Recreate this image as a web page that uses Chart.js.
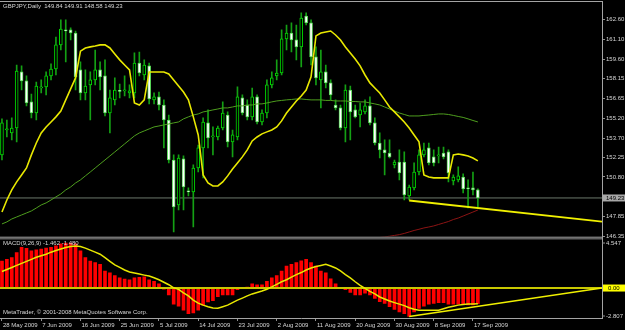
<!DOCTYPE html>
<html><head><meta charset="utf-8">
<style>html,body{margin:0;padding:0;background:#000;overflow:hidden}#wrap{width:625px;height:330px}</style>
<script src="https://cdn.jsdelivr.net/npm/chart.js@4.4.1/dist/chart.umd.min.js"></script>
</head><body><div id="wrap"><canvas id="c" width="625" height="330"></canvas></div>
<script>
// ---------- data ----------
const SYMBOL = 'GBPJPY,Daily';
const LAST_OHLC = ['149.84', '149.91', '148.58', '149.23'];
const MACD_TITLE = 'MACD(9,26,9) -1.462 -1.480';
const COPYRIGHT = 'MetaTrader, \u00A9 2001-2008 MetaQuotes Software Corp.';

const X_LABELS = ['28 May 2009','7 Jun 2009','16 Jun 2009','25 Jun 2009','5 Jul 2009','14 Jul 2009','23 Jul 2009','2 Aug 2009','11 Aug 2009','20 Aug 2009','30 Aug 2009','8 Sep 2009','17 Sep 2009'];
const X_LABEL_BARS = [0, 8, 16, 24, 32, 40, 48, 56, 64, 72, 80, 88, 96];

const Y_TICKS = [162.60, 161.10, 159.60, 158.15, 156.65, 155.20, 153.70, 152.25, 150.80, 147.85, 146.35];
const MACD_AXIS = [4.547, -2.807];
const BID = 149.23;
const ZERO_LEVEL = 0;

const OPEN = [152.45,154.31,154.09,154.46,158.65,157.98,156.41,155.58,157.45,157.53,
158.35,158.87,160.67,161.79,161.79,161.56,158.80,157.08,157.68,158.05,
158.80,158.35,155.58,156.56,157.23,157.23,157.08,157.08,159.32,158.42,
159.10,156.56,156.78,156.18,155.06,152.07,148.71,152.15,149.75,149.68,
151.47,152.97,154.84,153.79,153.79,154.46,155.43,153.42,153.79,156.71,
156.18,155.29,156.78,154.91,155.58,157.68,158.35,158.57,161.12,161.56,
161.04,160.52,162.83,162.31,159.77,158.05,158.65,157.83,156.18,155.96,
154.46,157.30,155.81,155.43,155.66,156.11,154.84,153.34,152.82,152.59,
151.70,151.92,151.92,149.38,149.98,151.17,152.45,152.97,152.30,152.37,
152.59,152.67,150.50,150.58,150.80,149.98,149.98,149.84];
const HIGH = [155.14,155.06,155.21,159.17,159.10,158.35,157.00,157.90,158.05,158.65,
159.25,161.26,162.54,162.54,161.94,161.71,159.40,158.80,158.65,160.29,
159.40,159.55,157.30,158.20,157.75,158.35,157.68,160.07,160.14,159.55,
159.32,157.08,157.15,156.56,155.43,152.45,152.45,152.37,149.98,151.70,
153.19,155.21,155.81,154.54,154.61,156.41,155.66,154.31,157.53,156.93,
156.56,157.45,156.93,155.81,158.05,158.65,159.55,161.79,162.16,162.31,
162.16,163.06,163.06,162.54,160.52,160.29,159.17,158.05,156.56,156.18,
157.68,157.60,156.18,156.33,156.56,156.78,155.21,154.09,153.57,153.57,
152.07,152.82,152.67,150.20,151.85,152.82,153.34,153.34,152.82,153.04,
153.04,152.82,150.95,151.55,151.03,150.58,151.17,149.91];
const LOW = [152.07,153.79,153.57,153.42,157.30,156.11,155.21,155.06,157.08,156.93,
158.05,158.42,160.29,159.40,161.04,157.30,156.56,156.56,155.06,157.68,
157.30,155.36,154.09,156.18,156.71,156.85,156.71,156.71,158.35,158.05,
156.26,156.26,155.81,152.97,151.85,146.69,148.33,148.33,149.38,147.06,
151.17,150.73,152.97,152.45,153.57,154.31,153.04,152.30,153.57,155.43,
155.06,155.06,154.76,154.69,155.21,157.45,158.05,158.42,160.29,160.14,
159.55,159.02,162.16,159.17,157.68,155.96,157.45,156.56,155.81,154.31,
153.42,153.57,155.21,154.54,155.51,154.69,153.19,152.22,150.95,152.22,
151.47,150.58,149.08,149.08,149.83,150.95,152.30,151.70,151.62,151.85,
152.15,150.43,150.20,150.43,149.60,148.48,149.46,148.58];
const CLOSE = [154.84,154.39,154.46,158.72,157.98,156.33,155.58,157.60,157.53,158.35,
158.87,160.67,161.86,161.71,161.56,158.28,157.08,157.60,158.05,158.80,
158.28,155.58,156.71,157.30,157.20,157.30,157.23,159.32,158.57,159.17,
156.63,156.78,156.18,155.06,152.07,148.56,152.22,150.05,149.68,151.47,
152.97,154.91,153.72,153.87,154.46,155.58,153.42,153.94,156.78,155.58,
155.29,156.78,154.91,155.58,157.68,158.20,158.57,161.12,161.56,161.04,
160.52,162.68,162.31,159.77,158.20,158.65,157.83,156.93,155.96,154.46,
157.30,155.66,155.29,155.81,156.11,154.84,153.34,152.82,152.59,152.30,
151.92,151.10,149.46,150.05,151.17,152.45,152.82,151.85,151.85,152.45,
152.30,151.10,150.80,150.88,149.90,149.90,149.83,149.23];

const YELLOW_LINE = [148.18,149.08,149.83,150.43,150.95,151.47,152.45,153.34,154.09,154.54,
154.91,155.29,155.73,156.56,157.38,158.20,160.20,160.44,160.52,160.59,
160.67,160.67,160.44,159.99,159.55,159.17,158.80,156.33,156.18,156.56,
158.65,158.65,158.65,158.65,158.50,158.05,157.60,157.15,156.56,155.29,
153.94,150.95,150.35,150.13,150.13,150.43,150.88,151.40,151.85,152.30,
152.82,153.49,153.79,154.02,154.17,154.31,154.54,154.99,155.58,156.03,
156.48,156.85,157.30,158.28,161.34,161.56,161.64,161.71,161.41,161.04,
160.52,160.07,159.62,159.10,158.42,157.83,157.45,157.08,156.56,156.03,
155.66,155.29,154.91,154.46,153.94,153.42,150.95,150.80,150.73,150.73,
150.73,150.73,152.45,152.52,152.45,152.37,152.22,152.00];
const GREEN_MA = [147.29,147.44,147.66,147.81,147.96,148.11,148.26,148.48,148.71,148.86,
149.08,149.31,149.53,149.83,150.05,150.35,150.58,150.88,151.17,151.47,
151.77,152.07,152.37,152.67,152.97,153.27,153.57,153.87,154.09,154.24,
154.39,154.54,154.61,154.69,154.76,154.84,154.91,155.14,155.29,155.43,
155.51,155.66,155.73,155.81,155.88,155.96,155.96,156.03,156.11,156.11,
156.18,156.18,156.26,156.26,156.33,156.41,156.48,156.52,156.56,156.59,
156.63,156.63,156.59,156.56,156.56,156.56,156.52,156.52,156.48,156.48,
156.48,156.44,156.44,156.41,156.41,156.33,156.26,156.18,156.03,155.88,
155.73,155.58,155.47,155.36,155.36,155.36,155.40,155.43,155.47,155.51,
155.51,155.47,155.40,155.32,155.25,155.14,155.02,154.91];
const RED_MA_START = 76;
const RED_MA = [146.24,146.28,146.32,146.37,146.43,146.49,146.58,146.69,146.80,146.89,
146.99,147.06,147.14,147.25,147.36,147.47,147.62,147.73,147.88,148.03,148.18,148.33];

const TREND_MAIN = [[83, 149.04], [122.3, 147.46]];

const MACD = [2.53,2.69,2.86,3.33,3.81,3.72,3.49,3.58,3.65,3.74,
3.81,3.96,4.13,4.22,4.22,4.13,3.49,2.86,2.53,2.38,
2.22,1.58,1.42,1.17,0.95,0.85,0.78,0.95,1.00,1.04,
0.78,0.62,0.40,-0.10,-0.65,-1.51,-1.70,-2.08,-2.40,-2.33,
-2.08,-1.60,-1.29,-1.18,-0.81,-0.65,-0.65,-0.65,-0.16,-0.03,
0.10,0.40,0.31,0.31,0.62,0.95,1.17,1.58,2.06,2.22,
2.38,2.54,2.70,2.38,2.06,1.58,1.42,0.86,0.40,0.05,
-0.16,-0.41,-0.65,-0.65,-0.49,-0.65,-0.97,-1.27,-1.43,-1.75,
-2.00,-2.23,-2.40,-2.66,-2.23,-1.91,-1.70,-1.50,-1.43,-1.37,
-1.37,-1.50,-1.50,-1.50,-1.50,-1.59,-1.59,-1.46];
const SIGNAL = [1.55,1.74,1.93,2.12,2.31,2.50,2.69,2.88,3.03,3.17,
3.36,3.51,3.65,3.79,3.89,3.94,3.89,3.74,3.55,3.36,
3.17,2.84,2.50,2.17,1.93,1.69,1.50,1.40,1.31,1.21,
1.12,0.97,0.78,0.54,0.31,0.02,-0.12,-0.46,-0.74,-1.13,
-1.41,-1.60,-1.75,-1.87,-1.89,-1.75,-1.60,-1.37,-1.13,-0.94,
-0.74,-0.55,-0.41,-0.27,-0.11,0.11,0.35,0.59,0.78,1.02,
1.26,1.45,1.69,1.88,2.02,2.12,2.22,2.07,1.88,1.60,
1.26,0.95,0.59,0.26,-0.03,-0.32,-0.55,-0.84,-1.03,-1.22,
-1.37,-1.51,-1.65,-1.84,-1.99,-2.08,-2.08,-2.08,-2.08,-2.08,
-1.94,-1.80,-1.70,-1.60,-1.54,-1.50,-1.49,-1.48];
const TREND_MACD = [[83, -2.67], [122.3, 0.0]];

// ---------- view ----------
const X_MIN = -0.4, X_MAX = 122.3;
const MAIN_MIN = 146.126, MAIN_MAX = 163.876;
const TXT = '#d6d6d6';
const FAMILY = '"Liberation Sans", Arial, sans-serif';
Chart.defaults.font.family = FAMILY;
Chart.defaults.font.size = 6;

const pts = (arr, start = 0) => arr.map((v, i) => ({x: i + start, y: v}));
const seg = (pairs) => pairs.map(p => ({x: p[0], y: p[1]}));
const isBear = i => CLOSE[i] < OPEN[i];

const mt4 = {
  id: 'mt4',
  beforeDraw(chart) {
    const {ctx, width, height} = chart;
    ctx.save(); ctx.fillStyle = '#000'; ctx.fillRect(0, 0, width, height); ctx.restore();
  },
  afterDatasetsDraw(chart) {
    const {ctx, chartArea} = chart;
    const y = chart.scales.y;
    ctx.save();
    ctx.fillStyle = '#000';
    ctx.fillRect(0, y.bottom - 3, chartArea.right, 3);
    ctx.fillStyle = '#a4a4a4';
    ctx.fillRect(0, y.bottom - 2.8, chartArea.right, 1);
    ctx.fillStyle = '#606060';
    ctx.fillRect(0, y.bottom - 1.5, chartArea.right, 1.5);
    ctx.fillStyle = '#a4a4a4';
    ctx.fillRect(0, chartArea.top - 1, chartArea.right + 1, 1);
    ctx.restore();
  },
  afterDraw(chart) {
    const {ctx, chartArea} = chart;
    const y = chart.scales.y, y2 = chart.scales.y2;
    const rx = chartArea.right;
    ctx.save();
    ctx.font = '6px ' + FAMILY;
    ctx.textBaseline = 'middle';
    ctx.textAlign = 'left';
    ctx.fillStyle = TXT;
    ctx.fillText(SYMBOL + '  ' + LAST_OHLC.join(' '), 3, 6.5);
    ctx.fillText(MACD_TITLE, 3, y2.top + 4);
    ctx.fillText(COPYRIGHT, 3, y2.bottom - 5.5);
    // MACD axis labels
    MACD_AXIS.forEach(v => {
      const py = y2.getPixelForValue(v);
      const ty = v > 0 ? py + 3.5 : py - 2;
      ctx.fillStyle = '#909090';
      ctx.fillRect(rx, ty - 0.5, 3, 1);
      ctx.fillStyle = TXT;
      ctx.fillText(v.toFixed(3), rx + 4, ty);
    });
    // bid price box
    const pb = y.getPixelForValue(BID);
    ctx.fillStyle = '#a8a8a8';
    ctx.fillRect(rx + 1, pb - 3.5, 22, 7);
    ctx.fillStyle = '#000';
    ctx.fillText(BID.toFixed(2), rx + 4, pb);
    // zero level box
    const p0 = y2.getPixelForValue(ZERO_LEVEL);
    ctx.fillStyle = '#ffff00';
    ctx.fillRect(rx + 1, p0 - 3.5, 22, 7);
    ctx.fillStyle = '#000';
    ctx.fillText(ZERO_LEVEL.toFixed(2), rx + 6, p0);
    ctx.restore();
  }
};

const zeroPad = s => { s.paddingTop = 0; s.paddingBottom = 0; s.paddingLeft = 0; s.paddingRight = 0; };

new Chart(document.getElementById('c'), {
  type: 'bar',
  data: {
    datasets: [
      {type: 'line', data: seg([[X_MIN, BID], [X_MAX, BID]]), borderColor: '#6c786c', borderWidth: 1, pointRadius: 0, yAxisID: 'y', order: 10},
      {type: 'bar', data: HIGH.map((h, i) => ({x: i, y: [LOW[i], h]})), backgroundColor: '#14a014', barThickness: 1, grouped: false, yAxisID: 'y', order: 9},
      {type: 'bar', data: OPEN.map((o, i) => ({x: i, y: [o, CLOSE[i]]})),
        backgroundColor: c => isBear(c.dataIndex) ? '#ffffff' : '#000000',
        borderColor: c => isBear(c.dataIndex) ? '#58d858' : '#00d800',
        borderWidth: 1, borderSkipped: false, barThickness: 3, minBarLength: 1, grouped: false, yAxisID: 'y', order: 8},
      {type: 'line', data: pts(GREEN_MA), borderColor: '#4e9e1e', borderWidth: 1, pointRadius: 0, tension: 0, yAxisID: 'y', order: 5},
      {type: 'line', data: pts(RED_MA, RED_MA_START), borderColor: '#8c1414', borderWidth: 1, pointRadius: 0, tension: 0, yAxisID: 'y', order: 5},
      {type: 'line', data: pts(YELLOW_LINE), borderColor: '#e8e800', borderWidth: 1.6, pointRadius: 0, tension: 0, yAxisID: 'y', order: 4},
      {type: 'line', data: seg(TREND_MAIN), borderColor: '#f0f000', borderWidth: 1.8, pointRadius: 0, yAxisID: 'y', order: 3},

      {type: 'bar', data: pts(MACD), backgroundColor: '#ff0000', barThickness: 3, grouped: false, yAxisID: 'y2', order: 8},
      {type: 'line', data: seg([[X_MIN, ZERO_LEVEL], [X_MAX, ZERO_LEVEL]]), borderColor: '#c8c800', borderWidth: 2, pointRadius: 0, yAxisID: 'y2', order: 5},
      {type: 'line', data: pts(SIGNAL), borderColor: '#e8e800', borderWidth: 1.5, pointRadius: 0, tension: 0, yAxisID: 'y2', order: 4},
      {type: 'line', data: seg(TREND_MACD), borderColor: '#f0f000', borderWidth: 1.5, pointRadius: 0, yAxisID: 'y2', order: 3}
    ]
  },
  options: {
    responsive: false, maintainAspectRatio: false, devicePixelRatio: 1, animation: false, events: [],
    layout: {padding: {top: 2, left: 0, right: 0, bottom: 0}},
    plugins: {legend: {display: false}, tooltip: {enabled: false}},
    scales: {
      x: {
        type: 'linear', min: X_MIN, max: X_MAX, offset: false, position: 'bottom',
        afterBuildTicks: s => { s.ticks = X_LABEL_BARS.map(v => ({value: v})); },
        afterFit: s => { s.height = 12; zeroPad(s); },
        ticks: {autoSkip: false, maxRotation: 0, minRotation: 0, align: 'start', labelOffset: 1, padding: 1, color: TXT,
          font: {size: 6}, callback: (v, i) => X_LABELS[i]},
        grid: {drawOnChartArea: false, drawTicks: true, tickLength: 3, color: '#909090', offset: false},
        border: {display: true, color: '#a4a4a4'}
      },
      y: {
        type: 'linear', position: 'right', stack: 'panels', stackWeight: 237.5, min: MAIN_MIN, max: MAIN_MAX, offset: false,
        afterBuildTicks: s => { s.ticks = Y_TICKS.map(v => ({value: v})); },
        afterFit: s => { s.width = 23; zeroPad(s); },
        ticks: {autoSkip: false, padding: 1, color: TXT, font: {size: 6}, callback: v => Number(v).toFixed(2)},
        grid: {drawOnChartArea: false, drawTicks: true, tickLength: 3, color: '#909090'},
        border: {display: true, color: '#a4a4a4'}
      },
      y2: {
        type: 'linear', position: 'right', stack: 'panels', stackWeight: 78.5, min: MACD_AXIS[1], max: MACD_AXIS[0], offset: false,
        afterFit: s => { s.width = 23; zeroPad(s); },
        ticks: {display: false},
        grid: {display: false, drawOnChartArea: false},
        border: {display: true, color: '#a4a4a4'}
      }
    }
  },
  plugins: [mt4]
});
</script>
</body></html>
